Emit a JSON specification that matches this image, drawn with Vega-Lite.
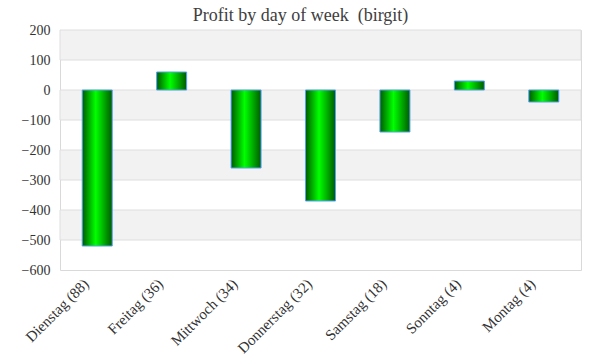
{
  "$schema": "https://vega.github.io/schema/vega-lite/v6.json",
  "width": 521,
  "height": 240,
  "autosize": {"type": "none"},
  "padding": {"left": 60, "top": 30, "right": 19, "bottom": 90},
  "background": "white",
  "title": {
    "text": "Profit by day of week \u00a0(birgit)",
    "font": "Liberation Serif",
    "fontSize": 18,
    "fontWeight": "normal",
    "color": "#404040",
    "anchor": "middle",
    "dx": -20,
    "offset": -2
  },
  "config": {
    "view": {"stroke": "#d9d9d9", "strokeWidth": 1},
    "axis": {
      "labelFont": "Liberation Serif",
      "labelFontSize": 13,
      "labelColor": "#333333",
      "ticks": false,
      "domain": false,
      "title": null
    }
  },
  "datasets": {
    "bands": [
      {"lo": 100, "hi": 200},
      {"lo": -100, "hi": 0},
      {"lo": -300, "hi": -200},
      {"lo": -500, "hi": -400}
    ],
    "profit": [
      {"day": "Dienstag (88)", "profit": -520},
      {"day": "Freitag (36)", "profit": 60},
      {"day": "Mittwoch (34)", "profit": -260},
      {"day": "Donnerstag (32)", "profit": -370},
      {"day": "Samstag (18)", "profit": -140},
      {"day": "Sonntag (4)", "profit": 30},
      {"day": "Montag (4)", "profit": -40}
    ]
  },
  "layer": [
    {
      "data": {"name": "bands"},
      "mark": {"type": "rect", "color": "#f2f2f2", "stroke": "#dedede", "strokeWidth": 1, "x": 0, "x2": {"expr": "width"}},
      "encoding": {
        "y": {
          "field": "lo",
          "type": "quantitative",
          "scale": {"domain": [-600, 200], "nice": false},
          "axis": {"values": [200, 100, 0, -100, -200, -300, -400, -500, -600], "labelOverlap": false, "grid": false, "labelPadding": 10, "labelFontSize": 14}
        },
        "y2": {"field": "hi"}
      }
    },
    {
      "data": {"name": "profit"},
      "mark": {
        "type": "bar",
        "width": 30,
        "stroke": "#55a0ff",
        "strokeWidth": 1,
        "color": {
          "gradient": "linear",
          "x1": 0, "x2": 1, "y1": 0, "y2": 0,
          "stops": [
            {"offset": 0, "color": "#005a00"},
            {"offset": 0.45, "color": "#00ff00"},
            {"offset": 1, "color": "#005a00"}
          ]
        }
      },
      "encoding": {
        "x": {
          "field": "day",
          "type": "nominal",
          "sort": null,
          "axis": {"labelAngle": -45, "labelPadding": 6, "labelAlign": "right", "labelBaseline": "top", "labelOffset": -16, "labelFontSize": 15, "grid": false}
        },
        "y": {
          "field": "profit",
          "type": "quantitative",
          "axis": {"values": [200, 100, 0, -100, -200, -300, -400, -500, -600], "labelOverlap": false, "grid": false, "labelPadding": 10, "labelFontSize": 14}
        }
      }
    }
  ]
}
